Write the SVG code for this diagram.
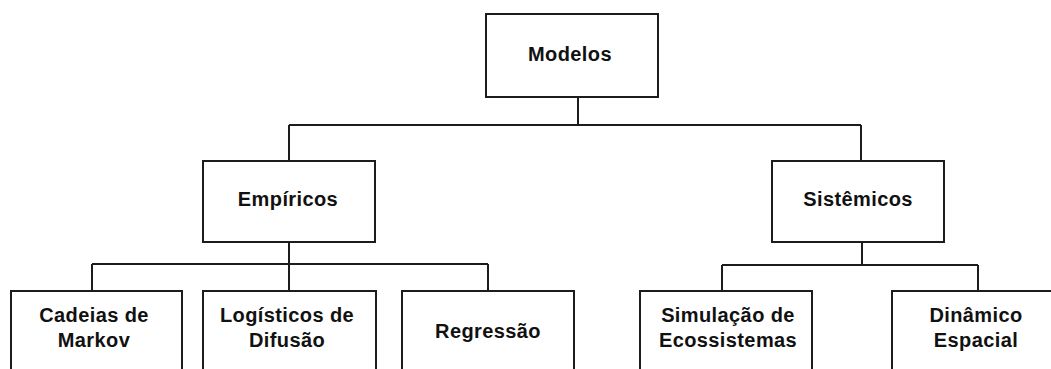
<svg xmlns="http://www.w3.org/2000/svg" width="1051" height="369" viewBox="0 0 1051 369">
<style>
.box{fill:#fff;stroke:#1c1c1c;stroke-width:2}
.ln{fill:none;stroke:#1c1c1c;stroke-width:2}
text{font-family:"Liberation Sans",Arial,sans-serif;font-weight:bold;font-size:20px;letter-spacing:0.4px;fill:#111;text-anchor:middle}
</style>
<rect width="1051" height="369" fill="#fff"/>
<g id="connectors">
<path class="ln" d="M578,97 V125 M289,125 H861 M289,125 V161 M861,125 V161"/>
<path class="ln" d="M289,242 V264 M92,264 H488 M92,264 V291 M289,264 V291 M488,264 V291"/>
<path class="ln" d="M862,242 V265 M722,265 H978 M722,265 V291 M978,265 V291"/>
</g>
<g id="modelos"><rect class="box" x="486" y="14" width="172" height="83"/><text x="570" y="61">Modelos</text></g>
<g id="empiricos"><rect class="box" x="203" y="161" width="172" height="81"/><text x="288" y="206">Empíricos</text></g>
<g id="sistemicos"><rect class="box" x="772" y="161" width="172" height="81"/><text x="858" y="206">Sistêmicos</text></g>
<g id="cadeias"><rect class="box" x="11" y="291" width="171" height="90"/><text x="94" y="322">Cadeias de</text><text x="94" y="347">Markov</text></g>
<g id="logisticos"><rect class="box" x="203" y="291" width="173" height="90"/><text x="287" y="322">Logísticos de</text><text x="287" y="347">Difusão</text></g>
<g id="regressao"><rect class="box" x="402" y="291" width="172" height="90"/><text x="488" y="338">Regressão</text></g>
<g id="simulacao"><rect class="box" x="640" y="291" width="172" height="90"/><text x="728" y="322">Simulação de</text><text x="728" y="347">Ecossistemas</text></g>
<g id="dinamico"><rect class="box" x="892" y="291" width="172" height="90"/><text x="976" y="322">Dinâmico</text><text x="976" y="347">Espacial</text></g>
</svg>
